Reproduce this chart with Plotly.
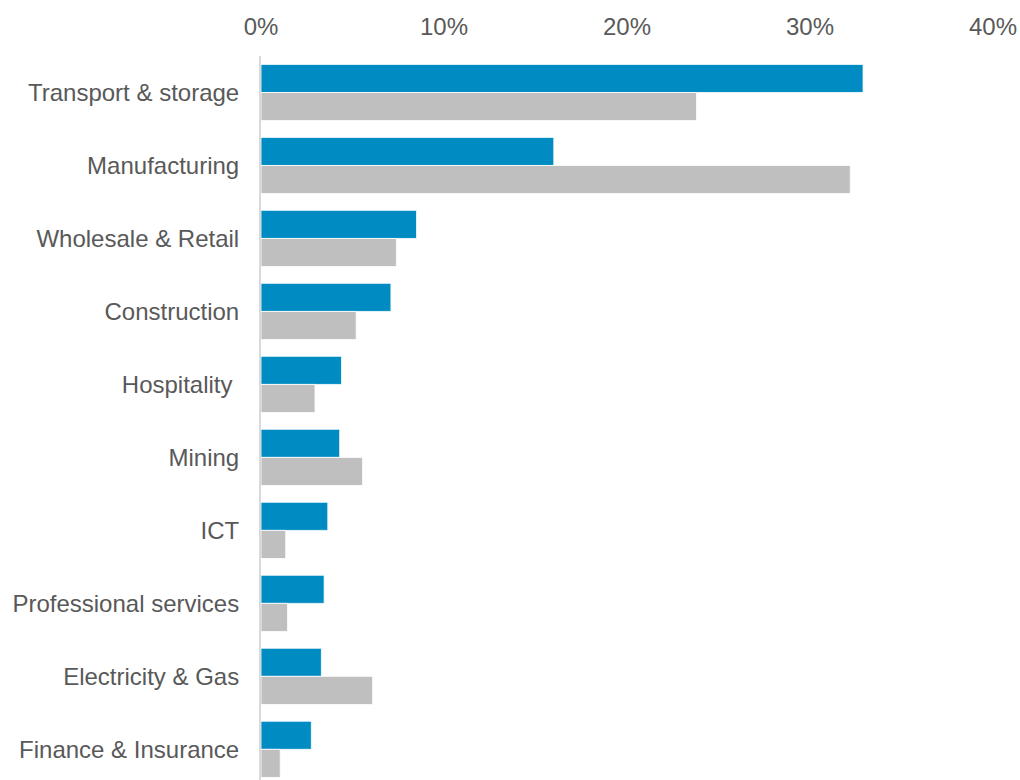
import plotly.graph_objects as go

# Sector shares (%), two series
sectors = [
    "Transport & storage",
    "Manufacturing",
    "Wholesale & Retail",
    "Construction",
    "Hospitality\u00a0",
    "Mining",
    "ICT",
    "Professional services",
    "Electricity & Gas",
    "Finance & Insurance",
]
series_blue = [32.9, 16.0, 8.5, 7.1, 4.4, 4.3, 3.65, 3.45, 3.3, 2.75]
series_grey = [23.8, 32.2, 7.4, 5.2, 2.95, 5.55, 1.35, 1.45, 6.1, 1.05]

BLUE = "#008cc2"
GREY = "#bfbfbf"
TEXT = "#595959"

fig = go.Figure()
fig.add_trace(go.Bar(
    y=sectors, x=series_blue, orientation="h",
    marker=dict(color=BLUE, line=dict(color="white", width=0.8)),
    showlegend=False,
))
fig.add_trace(go.Bar(
    y=sectors, x=series_grey, orientation="h",
    marker=dict(color=GREY, line=dict(color="white", width=0.8)),
    showlegend=False,
))

fig.update_layout(
    width=1020, height=780,
    margin=dict(l=261, r=27, t=56, b=0),
    paper_bgcolor="white", plot_bgcolor="white",
    barmode="group", bargap=0.23, bargroupgap=0,
    font=dict(family="Liberation Sans, Arial, sans-serif", size=24, color=TEXT),
    xaxis=dict(
        side="top", range=[0, 40], tickvals=[0, 10, 20, 30, 40],
        ticktext=["0%", "10%", "20%", "30%", "40%"],
        showgrid=False, zeroline=False, showline=False, ticks="",
        ticklabelstandoff=15,
        tickfont=dict(size=24, color=TEXT), fixedrange=True,
    ),
    yaxis=dict(
        range=[9.42, -0.5], showgrid=False, zeroline=False,
        showline=True, linecolor="#d9d9d9", linewidth=2,
        ticks="", ticklabelstandoff=15,
        tickfont=dict(size=24, color=TEXT), fixedrange=True,
    ),
)

fig.write_html("out.html")
